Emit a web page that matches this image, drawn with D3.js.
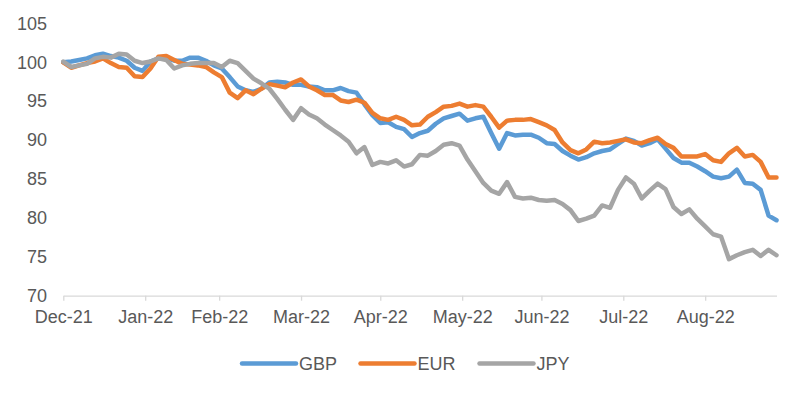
<!DOCTYPE html>
<html>
<head>
<meta charset="utf-8">
<script src="https://cdn.jsdelivr.net/npm/d3@7"></script>
<style>
  body { margin: 0; background: #fff; }
  text { font-family: "Liberation Sans", Arial, sans-serif; fill: #595959; }
</style>
</head>
<body>
<div id="chart"></div>
<script>
// values indexed to 100 at 31 Dec 2021, read every 3 days
const dates = ["2021-12-31","2022-01-03","2022-01-06","2022-01-09","2022-01-12","2022-01-15","2022-01-18","2022-01-21","2022-01-24","2022-01-27","2022-01-30","2022-02-02","2022-02-05","2022-02-08","2022-02-11","2022-02-14","2022-02-17","2022-02-20","2022-02-23","2022-02-26","2022-03-01","2022-03-04","2022-03-07","2022-03-10","2022-03-13","2022-03-16","2022-03-19","2022-03-22","2022-03-25","2022-03-28","2022-03-31","2022-04-03","2022-04-06","2022-04-09","2022-04-12","2022-04-15","2022-04-18","2022-04-21","2022-04-24","2022-04-27","2022-04-30","2022-05-03","2022-05-06","2022-05-09","2022-05-12","2022-05-15","2022-05-18","2022-05-21","2022-05-24","2022-05-27","2022-05-30","2022-06-02","2022-06-05","2022-06-08","2022-06-11","2022-06-14","2022-06-17","2022-06-20","2022-06-23","2022-06-26","2022-06-29","2022-07-02","2022-07-05","2022-07-08","2022-07-11","2022-07-14","2022-07-17","2022-07-20","2022-07-23","2022-07-26","2022-07-29","2022-08-01","2022-08-04","2022-08-07","2022-08-10","2022-08-13","2022-08-16","2022-08-19","2022-08-22","2022-08-25","2022-08-28","2022-08-31","2022-09-03","2022-09-06","2022-09-09","2022-09-12","2022-09-15","2022-09-18","2022-09-21","2022-09-24","2022-09-27"];

const gbp = [100,100.1,100.3,100.5,100.9,101.1,100.8,100.6,100.2,99.3,98.9,100.1,100.5,100.6,100.2,100.2,100.6,100.6,100.2,99.6,
  99.2,98.1,96.9,96.4,96.2,96.6,97.4,97.5,97.4,97.1,97.1,96.9,96.8,96.4,96.4,96.7,96.3,96.1,94.6,93.2,
  92.2,92.3,91.7,91.4,90.4,90.9,91.2,92.1,92.8,93.1,93.4,92.5,92.8,93,90.9,88.9,90.9,90.6,90.7,90.7,
  90.3,89.6,89.5,88.6,88,87.5,87.8,88.3,88.6,88.8,89.5,90.2,89.9,89.3,89.6,90.1,88.9,87.7,87.1,87.1,
  86.6,86,85.3,85.1,85.3,86.2,84.5,84.4,83.6,80.3,79.7];

const eur = [100,99.3,99.6,99.9,100.1,100.5,99.9,99.4,99.3,98.2,98.1,99.2,100.7,100.8,100.3,99.8,99.7,99.6,99.4,98.7,
  98.1,96.1,95.4,96.4,95.9,96.6,97.2,97,96.8,97.4,97.8,96.9,96.4,95.8,95.8,95.1,94.9,95.2,94.8,93.5,
  92.8,92.6,93,92.6,91.9,92,93,93.6,94.3,94.4,94.7,94.3,94.5,94.3,93,91.6,92.5,92.6,92.6,92.7,
  92.3,91.9,91.3,89.7,88.7,88.3,88.8,89.8,89.6,89.7,89.9,90.1,89.7,89.6,90,90.3,89.5,89,87.9,87.9,
  87.9,88.2,87.4,87.2,88.3,89,87.9,88.1,87.2,85.2,85.2];

const jpy = [100.1,99.4,99.6,99.8,100.5,100.7,100.6,101.1,101,100.2,99.9,100.1,100.5,100.3,99.2,99.6,99.8,99.9,99.9,99.9,
  99.4,100.2,99.9,98.9,97.9,97.3,96.6,95.3,93.9,92.6,94.1,93.3,92.8,92,91.3,90.6,89.8,88.3,89.1,86.8,
  87.2,87,87.4,86.6,86.9,88.1,88,88.6,89.4,89.6,89.3,87.5,86,84.5,83.5,83.1,84.6,82.7,82.5,82.6,
  82.3,82.2,82.3,81.8,81,79.6,79.9,80.3,81.6,81.3,83.6,85.2,84.4,82.5,83.5,84.4,83.7,81.4,80.5,81.1,
  79.9,78.9,77.9,77.6,74.7,75.2,75.6,75.9,75.1,75.9,75.2];

const seriesNames = ["GBP", "EUR", "JPY"];
const seriesColors = ["#5B9BD5", "#ED7D31", "#A5A5A5"];
const xTickDates = ["2021-12-31","2022-01-31","2022-02-28","2022-03-31","2022-04-30","2022-05-31","2022-06-30","2022-07-31","2022-08-31"];
const yTicks = [70, 75, 80, 85, 90, 95, 100, 105];

const parse = d3.timeParse("%Y-%m-%d");
const days = dates.map(parse);
const series = [gbp, eur, jpy].map((vals, i) => ({
  name: seriesNames[i],
  color: seriesColors[i],
  points: vals.map((v, j) => ({ date: days[j], value: v }))
}));

const width = 806, height = 399;
const svg = d3.select("#chart").append("svg")
  .attr("width", width)
  .attr("height", height);

const x = d3.scaleTime()
  .domain([days[0], days[days.length - 1]])
  .range([63.3, 776.5]);

const y = d3.scaleLinear()
  .domain([70, 105])
  .range([295.7, 23.4]);

// x axis
const xAxis = svg.append("g")
  .attr("transform", `translate(0,${y(70)})`)
  .call(d3.axisBottom(x)
    .tickValues(xTickDates.map(parse))
    .tickFormat(d3.timeFormat("%b-%y"))
    .tickSize(5)
    .tickSizeOuter(0)
    .tickPadding(10));
xAxis.select(".domain").attr("stroke", "#D9D9D9").attr("stroke-width", 1.3);
xAxis.selectAll(".tick line").attr("stroke", "#D9D9D9").attr("stroke-width", 1.3);
xAxis.selectAll(".tick text")
  .attr("fill", "#595959")
  .style("font-size", "18px")
  .style("font-family", '"Liberation Sans", Arial, sans-serif');

// y axis (labels only)
const yAxis = svg.append("g")
  .attr("transform", "translate(47,0)")
  .call(d3.axisLeft(y).tickValues(yTicks).tickSize(0).tickPadding(0));
yAxis.select(".domain").remove();
yAxis.selectAll(".tick text")
  .attr("fill", "#595959")
  .style("font-size", "18px")
  .style("font-family", '"Liberation Sans", Arial, sans-serif');

// lines
const line = d3.line()
  .x(d => x(d.date))
  .y(d => y(d.value));

svg.selectAll("path.series")
  .data(series)
  .enter()
  .append("path")
  .attr("class", "series")
  .attr("d", d => line(d.points))
  .attr("fill", "none")
  .attr("stroke", d => d.color)
  .attr("stroke-width", 4.5)
  .attr("stroke-linejoin", "round")
  .attr("stroke-linecap", "round");

// legend
const legendX = [242, 360.5, 479.5];
const legend = svg.selectAll("g.legend")
  .data(series)
  .enter()
  .append("g")
  .attr("class", "legend")
  .attr("transform", (d, i) => `translate(${legendX[i]},363.5)`);

legend.append("line")
  .attr("x1", 0)
  .attr("x2", 54)
  .attr("stroke", d => d.color)
  .attr("stroke-width", 4.5)
  .attr("stroke-linecap", "round");

legend.append("text")
  .attr("x", 57)
  .attr("dy", "0.35em")
  .style("font-size", "18px")
  .text(d => d.name);
</script>
</body>
</html>
